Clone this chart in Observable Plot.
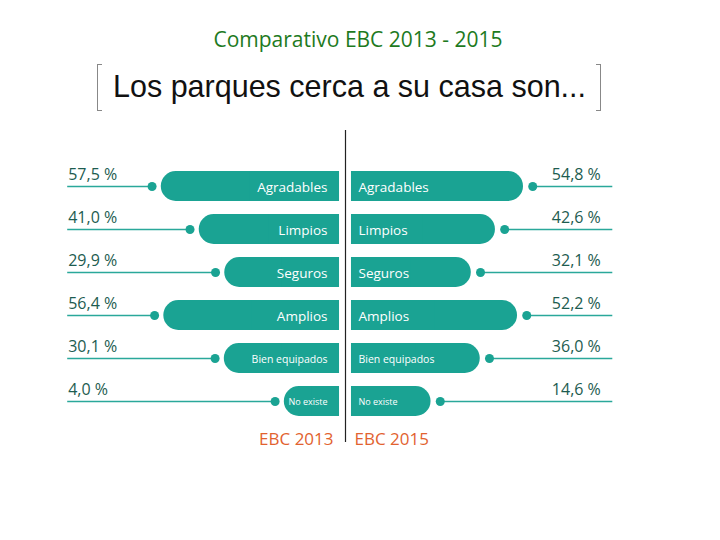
<!DOCTYPE html>
<html>
<head>
<meta charset="utf-8">
<script src="https://cdn.jsdelivr.net/npm/d3@7"></script>
<script src="https://cdn.jsdelivr.net/npm/@observablehq/plot@0.6"></script>
<style>
  html, body { margin: 0; padding: 0; background: #fff; }
  #page { position: relative; width: 720px; height: 540px; overflow: hidden; }
  #title { position: absolute; top: 25px; left: 0; width: 716px; text-align: center;
           font-family: "Open Sans", sans-serif; font-size: 21px; color: #1e7a1e; }
  #subtitle { position: absolute; top: 64px; left: 97px; width: 502px; height: 47px;
              border-left: 1px solid #888; border-right: 1px solid #888; }
  #subtitle .tl, #subtitle .bl, #subtitle .tr, #subtitle .br { position: absolute; width: 4px; border-top: 1px solid #888; }
  #subtitle .tl { top: 0; left: 0; } #subtitle .bl { bottom: 0; left: 0; }
  #subtitle .tr { top: 0; right: 0; } #subtitle .br { bottom: 0; right: 0; }
  #subtitle span { position: absolute; left: 15px; top: 5px; white-space: nowrap;
                   font-family: "Liberation Sans", Arial, sans-serif; font-size: 30.5px; color: #111; }
  #chart { position: absolute; top: 120px; left: 0; }
</style>
</head>
<body>
<div id="page">
  <div id="title">Comparativo EBC 2013 - 2015</div>
  <div id="subtitle"><div class="tl"></div><div class="bl"></div><div class="tr"></div><div class="br"></div><span>Los parques cerca a su casa son...</span></div>
  <div id="chart"></div>
</div>
<script>
// ---- data ----
const categories = ["Agradables", "Limpios", "Seguros", "Amplios", "Bien equipados", "No existe"];
const values2013 = [57.5, 41.0, 29.9, 56.4, 30.1, 4.0];
const values2015 = [54.8, 42.6, 32.1, 52.2, 36.0, 14.6];
const seriesLabels = ["EBC 2013", "EBC 2015"];

// ---- layout constants (not data) ----
const gap = 2.6;        // half gap between the two bars, in x units
const base = 20;        // room reserved inside each bar for its label
const dotOff = 4;       // dot distance beyond bar end
const lineEndLeft = 121;
const lineEndRight = 116;
const labelEndRight = 111;
const teal = "#1aa393";
const labelSize = {"Bien equipados": 10.5, "No existe": 9};

const fmt = v => v.toFixed(1).replace(".", ",") + " %";

function buildRows(values, side) {
  return categories.map((c, i) => {
    const v = values[i];
    return {
      cat: c, v,
      start: side * gap,
      end: side * (gap + base + v),
      mid: side * (gap + (base + v) / 2),
      dot: side * (gap + base + v + dotOff),
      lineEnd: side < 0 ? -lineEndLeft : lineEndRight
    };
  });
}
const left = buildRows(values2013, -1);
const right = buildRows(values2015, 1);
const rows = left.concat(right);

const chart = Plot.plot({
  width: 720,
  height: 340,
  margin: 0,
  x: {domain: [-100, 100], range: [345 - 230, 345 + 230], axis: null},
  y: {domain: categories, range: [43.3, 303.7], paddingInner: 0.31, paddingOuter: 0.155, axis: null},
  style: {fontFamily: "Open Sans, sans-serif", background: "transparent"},
  marks: [
    // leader lines and dots
    Plot.link(rows, {x1: "lineEnd", x2: "dot", y1: "cat", y2: "cat", stroke: "#2aa89a", strokeWidth: 1.5}),
    Plot.dot(rows, {x: "dot", y: "cat", r: 4.5, fill: teal, stroke: "none"}),
    // bars: rounded outer end, square inner end
    Plot.barX(rows, {x1: "start", x2: "end", y: "cat", fill: teal, rx: 15}),
    Plot.barX(rows, {x1: "start", x2: "mid", y: "cat", fill: teal}),
    // bar labels
    Plot.text(left, {x: "start", y: "cat", text: "cat", textAnchor: "end", dx: -12, dy: 1,
      fill: "white", fontSize: d => labelSize[d.cat] || 13.5}),
    Plot.text(right, {x: "start", y: "cat", text: "cat", textAnchor: "start", dx: 7, dy: 1,
      fill: "white", fontSize: d => labelSize[d.cat] || 13.5}),
    // values
    Plot.text(left, {x: -lineEndLeft, y: "cat", text: d => fmt(d.v), textAnchor: "start",
      dx: 1, dy: -12, fill: "#1d5c50", fontSize: 16}),
    Plot.text(right, {x: labelEndRight, y: "cat", text: d => fmt(d.v), textAnchor: "end",
      dy: -12, fill: "#1d5c50", fontSize: 16}),
    // center line
    Plot.ruleX([0], {x: d => d, stroke: "#222", strokeWidth: 1.2, insetTop: 10, insetBottom: 18}),
    // series labels
    Plot.text([seriesLabels[0]], {x: -gap, text: d => d, frameAnchor: "bottom", dy: -16, dx: -6,
      textAnchor: "end", fill: "#e2622f", fontSize: 17}),
    Plot.text([seriesLabels[1]], {x: gap, text: d => d, frameAnchor: "bottom", dy: -16, dx: 3,
      textAnchor: "start", fill: "#e2622f", fontSize: 17})
  ]
});

document.getElementById("chart").appendChild(chart);
</script>
</body>
</html>
